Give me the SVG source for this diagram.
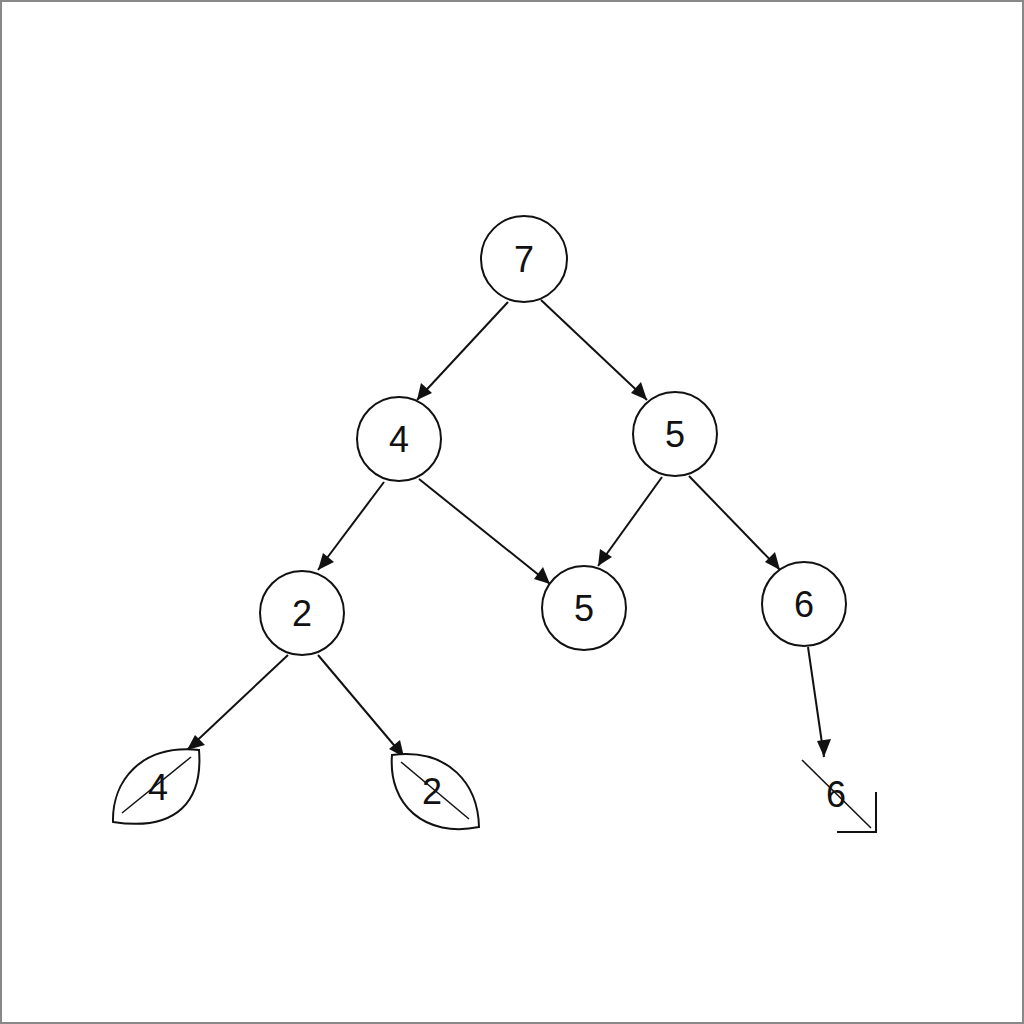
<svg xmlns="http://www.w3.org/2000/svg" width="1024" height="1024" viewBox="0 0 1024 1024">
<style>
.n{fill:#fff;stroke:#111;stroke-width:2}
.t{font-family:"Liberation Sans",Arial,sans-serif;font-size:36px;fill:#111;text-anchor:middle}
.e{stroke:#111;stroke-width:2;fill:none;marker-end:url(#a)}
.s{stroke:#111;stroke-width:1.5;fill:none}
</style>
<defs>
<marker id="a" viewBox="0 0 10 10" refX="9" refY="5" markerWidth="8" markerHeight="8" orient="auto" markerUnits="userSpaceOnUse">
<path d="M0,0 L10,5 L0,10 Z" fill="#111"/>
</marker>
</defs>
<rect x="0" y="0" width="1024" height="1024" fill="#fff"/>
<rect x="1" y="1" width="1022" height="1022" fill="none" stroke="#888" stroke-width="2"/>
<g id="connectors">
<line class="e" x1="508" y1="302" x2="417" y2="400" style="marker-end:none"/>
<line class="e" x1="541" y1="300" x2="647" y2="400" style="marker-end:none"/>
<line class="e" x1="384" y1="482" x2="318" y2="570" style="marker-end:none"/>
<line class="e" x1="419" y1="479" x2="550" y2="584" style="marker-end:none"/>
<line class="e" x1="662" y1="477" x2="598" y2="566" style="marker-end:none"/>
<line class="e" x1="689" y1="476" x2="780" y2="570" style="marker-end:none"/>
<line class="e" x1="288" y1="655" x2="187" y2="750" style="marker-end:none"/>
<line class="e" x1="318" y1="655" x2="404" y2="757" style="marker-end:none"/>
<line class="e" x1="808" y1="647" x2="824" y2="757" style="marker-end:none"/>
<g fill="#111">
<path d="M417,400 L421,383 L432,393 Z"/>
<path d="M647,400 L631,393 L641,382 Z"/>
<path d="M318,570 L323,553 L334,562 Z"/>
<path d="M550,584 L534,579 L543,567 Z"/>
<path d="M598,566 L600,549 L612,557 Z"/>
<path d="M780,570 L765,562 L775,552 Z"/>
<path d="M187,750 L195,735 L205,745 Z"/>
<path d="M404,757 L389,749 L400,740 Z"/>
<path d="M824,757 L817,741 L831,739 Z"/>
</g>
</g>
<g id="n7"><circle class="n" cx="524" cy="259" r="43"/><text class="t" x="524" y="272">7</text></g>
<g id="n4"><circle class="n" cx="399" cy="439" r="42"/><text class="t" x="399" y="452">4</text></g>
<g id="n5a"><circle class="n" cx="675" cy="434" r="42"/><text class="t" x="675" y="447">5</text></g>
<g id="n2"><circle class="n" cx="302" cy="613" r="42"/><text class="t" x="302" y="626">2</text></g>
<g id="n5b"><circle class="n" cx="584" cy="608" r="42"/><text class="t" x="584" y="621">5</text></g>
<g id="n6"><circle class="n" cx="804" cy="604" r="42"/><text class="t" x="804" y="617">6</text></g>
<g id="leaf4">
<path class="n" d="M113,822 C112,782 140,744 199,750 C203,800 178,832 113,822 Z"/>
<line class="s" x1="122" y1="813" x2="191" y2="757"/>
<text class="t" x="158" y="800">4</text>
</g>
<g id="leaf2">
<path class="n" d="M392,755 C388,805 425,838 479,827 C478,785 450,748 392,755 Z"/>
<line class="s" x1="401" y1="762" x2="469" y2="819"/>
<text class="t" x="432" y="804">2</text>
</g>
<g id="leaf6">
<line class="s" x1="802" y1="760" x2="871" y2="828"/>
<path d="M876,792 L876,832 L837,832" fill="none" stroke="#111" stroke-width="2"/>
<text class="t" x="836" y="807">6</text>
</g>
</svg>
